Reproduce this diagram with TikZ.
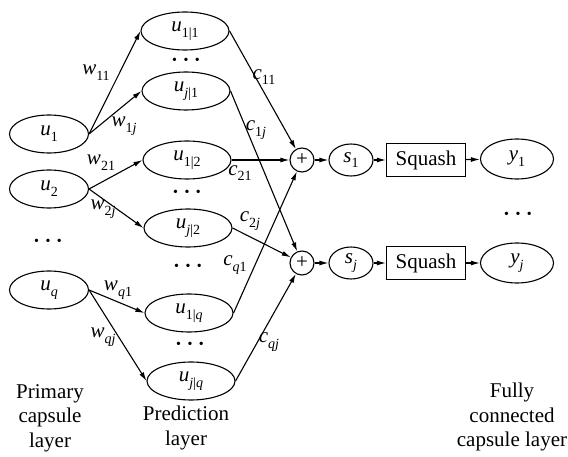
\documentclass[tikz,border=0pt]{standalone}
\usepackage{fontspec}
\setmainfont{Liberation Serif}
\usetikzlibrary{shapes.geometric,arrows.meta}
\newcommand\vsub[2]{\textit{#1}\raisebox{-0.28em}{\fontsize{14}{14}\selectfont #2}}
\newcommand\ddd{{\fontsize{14}{14}\selectfont •\hspace{6.5pt}•\hspace{6.5pt}•}}
\begin{document}
\begin{tikzpicture}[x=1pt,y=-1pt,
  font=\fontsize{21}{24.5}\selectfont,
  line width=1.1pt,
  arr/.style={-{Latex[length=9pt,width=5pt]}},
  prim/.style={draw,ellipse,minimum width=79pt,minimum height=38pt,inner sep=0pt},
  pred/.style={draw,ellipse,minimum width=88pt,minimum height=38pt,inner sep=0pt},
  sm/.style={draw,ellipse,minimum width=44pt,minimum height=32pt,inner sep=0pt},
  ym/.style={draw,ellipse,minimum width=73pt,minimum height=40pt,inner sep=0pt},
  sqb/.style={draw,rectangle,minimum width=79pt,minimum height=33pt,inner sep=0pt},
  plus/.style={draw,circle,minimum size=24pt,inner sep=0pt},
  lbl/.style={inner sep=0pt},
  dotsn/.style={inner sep=0pt},
  captxt/.style={align=center,inner sep=0pt,font=\fontsize{21}{24.5}\selectfont}]
\useasboundingbox (0,0) rectangle (568,457);
% primary
\node[prim] (u1) at (49,134) {\vsub{u}{1}};
\node[prim] (u2) at (49,189) {\vsub{u}{2}};
\node[prim] (uq) at (49,290) {\vsub{u}{\textit{q}}};
\node[dotsn] (d0) at (48,242) {\ddd};
% prediction
\node[pred] (p11) at (185,31) {\vsub{u}{1|1}};
\node[pred] (pj1) at (186,91) {\vsub{u}{\textit{j}|1}};
\node[pred] (p12) at (187,160) {\vsub{u}{1|2}};
\node[pred] (pj2) at (188,228) {\vsub{u}{\textit{j}|2}};
\node[pred] (p1q) at (189,313) {\vsub{u}{1|\textit{q}}};
\node[pred] (pjq) at (191,381) {\vsub{u}{\textit{j}|\textit{q}}};
\node[dotsn] (d1) at (186,61) {\ddd};
\node[dotsn] (d2) at (187,193) {\ddd};
\node[dotsn] (d3) at (188,267) {\ddd};
\node[dotsn] (d4) at (190,345) {\ddd};
% sums
\node[plus] (a1) at (302,160) {+};
\node[plus] (a2) at (302,263) {+};
\node[sm] (s1) at (351,160) {\vsub{s}{1}};
\node[sm] (sj) at (351,263) {\vsub{s}{\textit{j}}};
\node[sqb] (q1) at (426,160) {Squash};
\node[sqb] (q2) at (426,263) {Squash};
\node[ym] (y1) at (517,159) {\vsub{y}{1}};
\node[ym] (yj) at (517,263) {\vsub{y}{\textit{j}}};
\node[dotsn] (d5) at (518,215) {\ddd};
% w arrows
\draw[arr] (u1.east) -- (p11.west);
\draw[arr] (u1.east) -- (pj1.west);
\draw[arr] (u2.east) -- (p12.west);
\draw[arr] (u2.east) -- (pj2.west);
\draw[arr] (uq.east) -- (p1q.west);
\draw[arr] (uq.east) -- (pjq.west);
\node[lbl] (w11) at (96,73) {\vsub{w}{11}};
\node[lbl] (w1j) at (124,126) {\vsub{w}{1\textit{j}}};
\node[lbl] (w21) at (101,163) {\vsub{w}{21}};
\node[lbl] (w2j) at (103,209) {\vsub{w}{2\textit{j}}};
\node[lbl] (wq1) at (118,290) {\vsub{w}{\textit{q}1}};
\node[lbl] (wqj) at (103,337) {\vsub{w}{\textit{qj}}};
% c arrows
\draw[arr] (p11.east) -- (a1);
\draw[arr] (p12.east) -- (a1.west);
\draw[arr] (p1q.east) -- (a1);
\draw[arr] (pj1.east) -- (a2);
\draw[arr] (pj2.east) -- (a2);
\draw[arr] (pjq.east) -- (a2);
\node[lbl] (c11) at (264,77) {\vsub{c}{11}};
\node[lbl] (c1j) at (256,130) {\vsub{c}{1\textit{j}}};
\node[lbl] (c21) at (240,173) {\vsub{c}{21}};
\node[lbl] (c2j) at (250,221) {\vsub{c}{2\textit{j}}};
\node[lbl] (cq1) at (235,265) {\vsub{c}{\textit{q}1}};
\node[lbl] (cqj) at (269,342) {\vsub{c}{\textit{qj}}};
% chain
\draw[arr] (a1) -- (s1);
\draw[arr] (s1) -- (q1);
\draw[arr] (q1) -- (y1);
\draw[arr] (a2) -- (sj);
\draw[arr] (sj) -- (q2);
\draw[arr] (q2) -- (yj);
% captions
\node[captxt] (t1) at (50,418) {Primary\\capsule\\layer};
\node[captxt] (t2) at (186,428) {Prediction\\layer};
\node[captxt] (t3) at (512,417) {Fully\\connected\\capsule layer};
\end{tikzpicture}
\end{document}
